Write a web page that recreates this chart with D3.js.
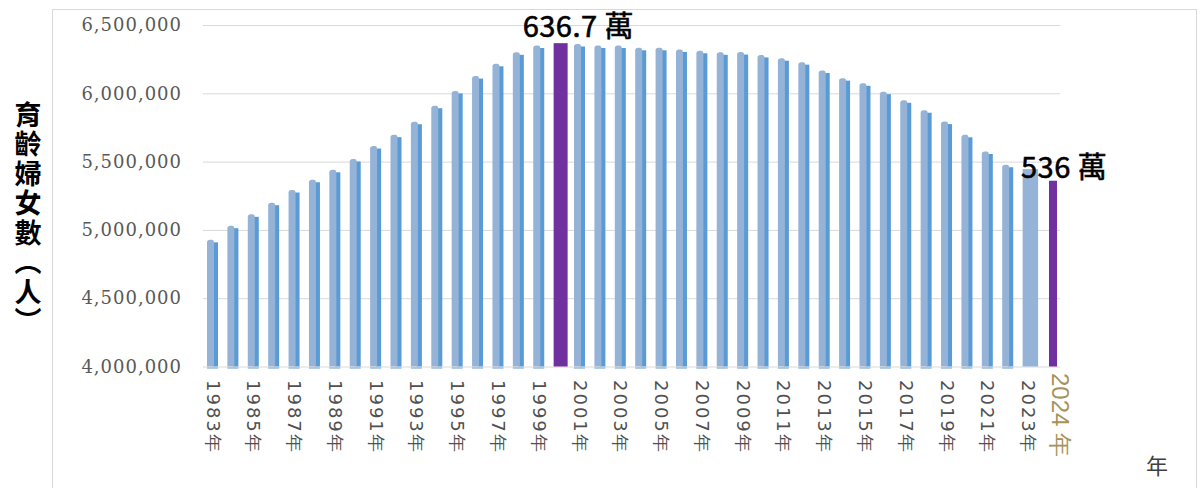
<!DOCTYPE html>
<html>
<head>
<meta charset="utf-8">
<script src="https://cdn.jsdelivr.net/npm/d3@7"></script>
<style>
  html, body { margin: 0; padding: 0; background: #fff; }
  svg { display: block; }
</style>
</head>
<body>
<div id="chart"></div>
<script>
// Women of childbearing age, 1983-2024
const years = [1983, 1984, 1985, 1986, 1987, 1988, 1989, 1990, 1991, 1992,
  1993, 1994, 1995, 1996, 1997, 1998, 1999, 2000, 2001, 2002,
  2003, 2004, 2005, 2006, 2007, 2008, 2009, 2010, 2011, 2012,
  2013, 2014, 2015, 2016, 2017, 2018, 2019, 2020, 2021, 2022,
  2023, 2024];
const women = [4927000, 5031000, 5114000, 5199000, 5292000, 5367000, 5440000, 5519000, 5614000, 5697000,
  5792000, 5909000, 6017000, 6126000, 6216000, 6300000, 6350000, 6367000, 6361000, 6350000,
  6350000, 6333000, 6333000, 6321000, 6311000, 6300000, 6302000, 6281000, 6257000, 6228000,
  6167000, 6111000, 6073000, 6012000, 5949000, 5876000, 5793000, 5696000, 5574000, 5477000,
  5445000, 5360000];
const yTicks = [4000000, 4500000, 5000000, 5500000, 6000000, 6500000];
const xLabelYears = [1983, 1985, 1987, 1989, 1991, 1993, 1995, 1997, 1999, 2001,
  2003, 2005, 2007, 2009, 2011, 2013, 2015, 2017, 2019, 2021, 2023];
const callouts = [
  { year: 2000, text: '636.7 萬' },
  { year: 2024, text: '536 萬' }
];
const yTitle = '育齡婦女數（人）';

function draw() {
  const width = 1201, height = 488;
  const light = '#95b3d7', dark = '#5b9bd5', purple = '#7030a0';

  const svg = d3.select('#chart').append('svg')
    .attr('width', width)
    .attr('height', height);

  // outer chart frame
  svg.append('rect')
    .attr('x', 52.5).attr('y', 9.5)
    .attr('width', 1144).attr('height', 500)
    .attr('fill', 'none')
    .attr('stroke', '#d9d9d9');

  const x = d3.scaleBand()
    .domain(years)
    .range([207, 207 + 20.39 * years.length]);
  const y = d3.scaleLinear()
    .domain([4000000, 6500000])
    .range([366.5, 25]);

  // gridlines + y tick labels
  const yAxis = svg.append('g')
    .attr('transform', 'translate(203,0)')
    .call(d3.axisLeft(y)
      .tickValues(yTicks)
      .tickFormat(d3.format(','))
      .tickSize(-857)
      .tickPadding(21));
  yAxis.select('.domain').remove();
  yAxis.selectAll('line').attr('stroke', '#d9d9d9');
  yAxis.selectAll('text')
    .attr('fill', '#595959')
    .style('font-family', '"DejaVu Serif", serif')
    .style('font-size', '18px')
    .style('letter-spacing', '1px');

  const data = years.map((yr, i) => ({ year: yr, value: women[i] }));
  const normal = data.filter(d => d.year !== 2000 && d.year !== 2023 && d.year !== 2024);

  // small base shadow under each column
  svg.append('g').selectAll('rect')
    .data(normal)
    .enter().append('rect')
    .attr('x', d => x(d.year))
    .attr('y', y(4000000) + 0.5)
    .attr('width', 11)
    .attr('height', 2)
    .attr('fill', light)
    .attr('opacity', 0.7);

  // dark side face
  svg.append('g').selectAll('rect')
    .data(normal)
    .enter().append('rect')
    .attr('x', d => x(d.year) + 6)
    .attr('y', d => y(d.value) + 2.5)
    .attr('width', 5)
    .attr('height', d => y(4000000) - y(d.value) - 2.5)
    .attr('fill', dark);

  // light front face with rounded top
  svg.append('g').selectAll('path')
    .data(normal)
    .enter().append('path')
    .attr('d', d => {
      const x0 = x(d.year), x1 = x0 + 7, t = y(d.value), b = y(4000000);
      return `M${x0},${b}V${t + 2.5}Q${x0},${t} ${x0 + 3},${t}H${x1 - 2}Q${x1},${t} ${x1},${t + 2.5}V${b}Z`;
    })
    .attr('fill', light);

  // 2023: plain light column
  const d23 = data.find(d => d.year === 2023);
  svg.append('rect')
    .attr('x', x(2023))
    .attr('y', y(d23.value))
    .attr('width', 15.5)
    .attr('height', y(4000000) - y(d23.value))
    .attr('fill', light);

  // highlighted columns
  const d00 = data.find(d => d.year === 2000);
  svg.append('rect')
    .attr('x', x(2000))
    .attr('y', y(d00.value))
    .attr('width', 14)
    .attr('height', y(4000000) - y(d00.value))
    .attr('fill', purple);
  const d24 = data.find(d => d.year === 2024);
  svg.append('rect')
    .attr('x', x(2024) + 6)
    .attr('y', y(d24.value))
    .attr('width', 8)
    .attr('height', y(4000000) - y(d24.value))
    .attr('fill', purple);

  // x labels, rotated
  svg.append('g').selectAll('text')
    .data(xLabelYears)
    .enter().append('text')
    .attr('transform', d => `translate(${x(d) + 6},380) rotate(90)`)
    .attr('dominant-baseline', 'central')
    .attr('fill', '#505050')
    .style('font-family', '"DejaVu Sans", sans-serif')
    .style('font-size', '18px')
    .style('letter-spacing', '2px')
    .text(d => d + '年');

  svg.append('text')
    .attr('transform', `translate(${x(2024) + 18},373) rotate(90)`)
    .attr('dominant-baseline', 'central')
    .attr('fill', '#a8925c')
    .style('font-family', '"Liberation Sans", sans-serif')
    .style('font-size', '24px')
    .text('2024 年');

  // x axis title
  svg.append('text')
    .attr('x', 1157).attr('y', 474)
    .attr('text-anchor', 'middle')
    .attr('fill', '#404040')
    .style('font-family', '"Noto Sans CJK TC", sans-serif')
    .style('font-size', '22px')
    .text('年');

  // y axis title, vertical writing
  svg.append('text')
    .attr('x', 28)
    .attr('y', 101)
    .attr('fill', '#000')
    .style('writing-mode', 'vertical-rl')
    .style('text-orientation', 'upright')
    .style('font-family', '"Noto Sans CJK TC", sans-serif')
    .style('font-weight', 'bold')
    .style('font-size', '27px')
    .style('letter-spacing', '2.5px')
    .text(yTitle);

  // callouts
  const offsets = { 2000: [-31, -6], 2024: [-22, -3] };
  svg.append('g').selectAll('text')
    .data(callouts)
    .enter().append('text')
    .attr('x', d => x(d.year) + offsets[d.year][0])
    .attr('y', d => y(data.find(e => e.year === d.year).value) + offsets[d.year][1])
    .attr('fill', '#000')
    .attr('stroke', '#000')
    .attr('stroke-width', 0.6)
    .style('font-family', '"Noto Sans CJK TC", sans-serif')
    .style('font-size', '29px')
    .style('letter-spacing', '0.5px')
    .text(d => d.text);
}

document.addEventListener('DOMContentLoaded', draw);
</script>
</body>
</html>
